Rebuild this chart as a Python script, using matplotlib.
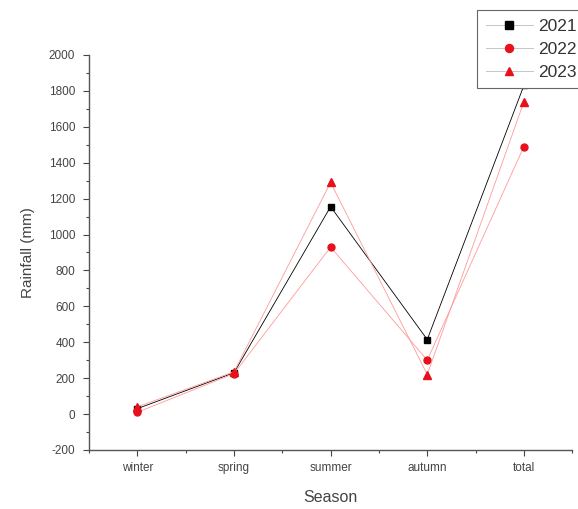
import numpy as np
from matplotlib import pyplot as plt

plt.rcParams['font.family'] = ['Liberation Sans', 'DejaVu Sans']
plt.rcParams['axes.unicode_minus'] = False

seasons = ['winter', 'spring', 'summer', 'autumn', 'total']
y2021 = [30, 230, 1155, 415, 1830]
y2022 = [10, 225, 930, 300, 1490]
y2023 = [40, 235, 1290, 220, 1740]

fig = plt.figure(figsize=(5.78, 5.09), dpi=100)
ax = fig.add_axes([0.154, 0.116, 0.836, 0.776])

x = np.arange(len(seasons))
ax.plot(x, y2021, '-s', color='black', mfc='black', mec='black', lw=0.6, ms=5, label='2021')
ax.plot(x, y2022, '-o', color='#ff9999', mfc='#e8101c', mec='#e8101c', lw=0.6, ms=5, label='2022')
ax.plot(x, y2023, '-^', color='#ff9999', mfc='#e8101c', mec='#e8101c', lw=0.6, ms=5.5, label='2023')

ax.set_xlim(-0.5, 4.5)
ax.set_ylim(-200, 2000)
ax.set_xticks(x)
ax.set_xticklabels(seasons)
ax.set_xticks(np.arange(-0.5, 4.6, 1.0), minor=True)
ax.set_yticks(np.arange(-200, 2001, 200))
ax.set_yticks(np.arange(-100, 2000, 200), minor=True)
ax.tick_params(axis='both', which='major', labelsize=8.5, length=4, width=0.8, colors='#444')
ax.tick_params(axis='x', which='major', pad=5)
ax.tick_params(axis='y', which='major', pad=6)
ax.tick_params(axis='both', which='minor', length=2.5, width=0.8, colors='#444')
for s in ['top', 'right']:
    ax.spines[s].set_visible(False)
for s in ['left', 'bottom']:
    ax.spines[s].set_color('#555')
    ax.spines[s].set_linewidth(1.0)

ax.set_xlabel('Season', fontsize=11.5, color='#444', labelpad=11)
ax.set_ylabel('Rainfall (mm)', fontsize=11, color='#444', labelpad=10)

leg = ax.legend(loc='upper left', bbox_to_anchor=(477/578, 1 - 10/509), bbox_transform=fig.transFigure,
                fontsize=12.5, fancybox=False, framealpha=1, edgecolor='#666',
                borderpad=0.5, labelspacing=0.45, handlelength=2.7, handletextpad=0.3,
                borderaxespad=0, markerscale=1.15)
leg.get_frame().set_linewidth(0.8)
for t in leg.get_texts():
    t.set_color('#333')
for h in leg.get_lines():
    h.set_color('#bbbbbb')

fig.savefig('out.png', dpi=100)
